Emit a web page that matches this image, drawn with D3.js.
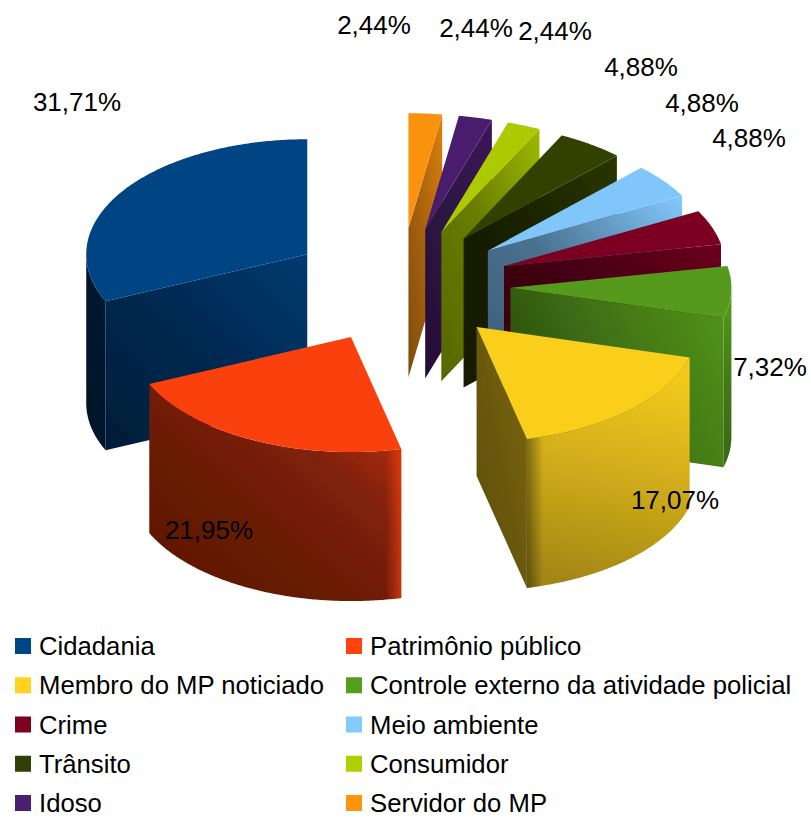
<!DOCTYPE html>
<html>
<head>
<meta charset="utf-8">
<script src="https://cdnjs.cloudflare.com/ajax/libs/d3/7.8.5/d3.min.js"></script>
<style>
    html, body { margin: 0; padding: 0; background: #fff; }
    text { font-family: "Liberation Sans", Arial, sans-serif; fill: #000; }
</style>
</head>
<body>
<svg id="chart" width="811" height="818"></svg>
<script>
// data
var categories = ['Cidadania', 'Patrimônio público', 'Membro do MP noticiado',
    'Controle externo da atividade policial', 'Crime', 'Meio ambiente',
    'Trânsito', 'Consumidor', 'Idoso', 'Servidor do MP'];
var percents = [31.71, 21.95, 17.07, 7.32, 4.88, 4.88, 4.88, 2.44, 2.44, 2.44];
var percentLabels = ['31,71%', '21,95%', '17,07%', '7,32%', '4,88%', '4,88%', '4,88%', '2,44%', '2,44%', '2,44%'];
var colors = ['#004586', '#ff420e', '#ffd320', '#579d1c', '#7e0021', '#83caff', '#314004', '#aecf00', '#4b1f6f', '#ff950e'];

// layout
var cx = 400, cy = 285.5, rx = 221, ry = 115, depth = 149, explode = 0.5;
var labelCenters = [[77, 102], [209, 530], [675, 500], [770, 367], [749, 138], [702, 103], [641, 67], [555, 31], [476, 28], [374, 25]];
// brightness of the side faces along a gradient, default lower left to upper right
var diagonal = [0, 1, 1, 0];
var cutShade = [
    { stops: [.42, .6, .84], dir: diagonal }, null,
    { stops: [.36, .42, .48], dir: diagonal },
    { stops: [.48, .72, .92], dir: [0, .65, 1, .25] },
    { stops: [.42, .5, .86], dir: diagonal },
    { stops: [.45, .56, 1], dir: diagonal },
    { stops: [.42, .5, .86], dir: diagonal },
    { stops: [.5, .6, .9], dir: diagonal },
    { stops: [.5, .6, .8], dir: diagonal },
    { stops: [.5, .66, .86], dir: diagonal }
];
var wallShade = [
    { stops: [.28, .32, .4], dir: diagonal },
    { stops: [.37, .4, .5, .8], dir: diagonal },
    { stops: [.62, .8, .95], dir: [.1, 1, .25, 0] },
    { stops: [.65, .78, 1], dir: [0, 1, 0, 0] }
];

var svg = d3.select('#chart');
var defs = svg.append('defs');
defs.append('filter').attr('id', 'soft').append('feGaussianBlur').attr('stdDeviation', 0.5);

// soft rim where a wall turns away from the light
var yellowRim = defs.append('linearGradient').attr('id', 'rimDark');
yellowRim.append('stop').attr('offset', 0).attr('stop-color', '#000').attr('stop-opacity', .4);
yellowRim.append('stop').attr('offset', .1).attr('stop-color', '#000').attr('stop-opacity', 0);
var orangeRim = defs.append('linearGradient').attr('id', 'rimLight');
orangeRim.append('stop').attr('offset', .94).attr('stop-color', '#ff420e').attr('stop-opacity', 0);
orangeRim.append('stop').attr('offset', 1).attr('stop-color', '#ff420e').attr('stop-opacity', .6);
var wallRim = { 1: 'url(#rimLight)', 2: 'url(#rimDark)' };

var pie3d = svg.append('g').attr('filter', 'url(#soft)');

var xScale = d3.scaleLinear().domain([-1, 1]).range([cx - rx, cx + rx]);
var yScale = d3.scaleLinear().domain([-1, 1]).range([cy - ry, cy + ry]);
var line = d3.line();

// the pie runs counter clockwise from 12 o'clock
var slices = d3.pie().sort(null)(percents);

function unit(a, r) {
    return [-Math.sin(a) * r, -Math.cos(a) * r];
}

function project(p, drop) {
    return [xScale(p[0]), yScale(p[1]) + (drop || 0)];
}

function addGradient(id, color, shade) {
    var c = d3.rgb(color);
    var g = defs.append('linearGradient').attr('id', id)
        .attr('x1', shade.dir[0]).attr('y1', shade.dir[1])
        .attr('x2', shade.dir[2]).attr('y2', shade.dir[3]);
    shade.stops.forEach(function (k, i) {
        g.append('stop').attr('offset', i / (shade.stops.length - 1))
            .attr('stop-color', d3.rgb(c.r * k, c.g * k, c.b * k));
    });
    return 'url(#' + id + ')';
}

function drawSlice(s) {
    var i = s.index;
    var mid = (s.startAngle + s.endAngle) / 2;
    var off = unit(mid, explode);
    var at = function (a, r) {
        var u = unit(a, r);
        return [off[0] + u[0], off[1] + u[1]];
    };
    var g = pie3d.append('g').attr('class', 'slice');
    var apex = at(0, 0);
    var half = Math.PI / 2;

    // lower cut face
    var cut = null;
    if (s.endAngle < Math.PI) cut = s.endAngle;
    else if (s.startAngle > Math.PI) cut = s.startAngle;
    if (cut !== null && cutShade[i]) {
        var outer = at(cut, 1);
        g.append('path')
            .attr('d', line([project(apex), project(outer), project(outer, depth), project(apex, depth)]) + 'Z')
            .attr('fill', addGradient('cut' + i, colors[i], cutShade[i]));
    }

    // outer wall, only the part turned to the viewer
    var a0 = Math.max(s.startAngle, half), a1 = Math.min(s.endAngle, 3 * half);
    if (a1 > a0) {
        var steps = d3.range(a0, a1, 0.01).concat([a1]);
        var upper = steps.map(function (a) { return project(at(a, 1)); });
        var lower = steps.map(function (a) { return project(at(a, 1), depth); }).reverse();
        var wall = line(upper.concat(lower)) + 'Z';
        g.append('path').attr('d', wall)
            .attr('fill', addGradient('wall' + i, colors[i], wallShade[i]));
        if (wallRim[i]) g.append('path').attr('d', wall).attr('fill', wallRim[i]);
    }

    // top face
    var rim = d3.range(s.startAngle, s.endAngle, 0.01).concat([s.endAngle])
        .map(function (a) { return project(at(a, 1)); });
    var top = d3.rgb(colors[i]);
    g.append('path')
        .attr('d', line([project(apex)].concat(rim)) + 'Z')
        .attr('fill', d3.rgb(top.r * .98, top.g * .98, top.b * .98));
}

// back slices first
slices.slice().sort(function (a, b) {
    var ya = unit((a.startAngle + a.endAngle) / 2, 1)[1];
    var yb = unit((b.startAngle + b.endAngle) / 2, 1)[1];
    return ya - yb;
}).forEach(drawSlice);

// value labels
svg.append('g').selectAll('text').data(percentLabels).enter().append('text')
    .attr('x', function (d, i) { return labelCenters[i][0]; })
    .attr('y', function (d, i) { return labelCenters[i][1]; })
    .attr('dy', '0.35em')
    .attr('text-anchor', 'middle')
    .attr('font-size', 26)
    .text(function (d) { return d; });

// legend, two columns
var legendCol = d3.scaleOrdinal().domain([0, 1]).range([15, 346]);
var legendRow = d3.scalePoint().domain(d3.range(5)).range([646, 803]);
var legend = svg.append('g').selectAll('g').data(categories).enter().append('g')
    .attr('transform', function (d, i) {
        return 'translate(' + legendCol(i % 2) + ',' + legendRow(Math.floor(i / 2)) + ')';
    });
legend.append('rect').attr('x', 0).attr('y', -8).attr('width', 16).attr('height', 16)
    .attr('fill', function (d, i) { return colors[i]; });
legend.append('text').attr('x', 24).attr('dy', '0.35em').attr('font-size', 25.7)
    .text(function (d) { return d; });
</script>
</body>
</html>
